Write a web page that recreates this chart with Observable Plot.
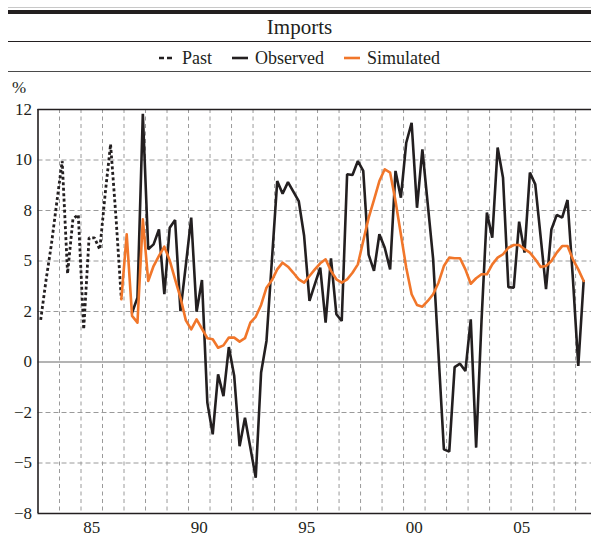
<!DOCTYPE html>
<html><head><meta charset="utf-8">
<script src="https://cdn.jsdelivr.net/npm/d3@7"></script>
<script src="https://cdn.jsdelivr.net/npm/@observablehq/plot@0.6"></script>
<style>
body{margin:0;background:#fff;font-family:"Liberation Serif","Times New Roman",serif;color:#231f20;}
#wrap{position:relative;width:591px;height:548px;overflow:hidden;}
.abs{position:absolute;}
#legend{display:flex;justify-content:center;align-items:center;font-size:18px;}
#legend .item{display:flex;align-items:center;margin:0 10px;}
#legend svg{margin-right:7px;}
</style></head><body>
<div id="wrap">
  <div class="abs" style="left:8px;right:0;top:7px;border-top:1px solid #c8c8c8"></div>
  <div class="abs" style="left:8px;right:0;top:9.5px;height:4.5px;background:#231f20"></div>
  <div class="abs" style="left:8px;right:0;top:14px;height:26px;line-height:26px;text-align:center;font-size:21px">Imports</div>
  <div class="abs" style="left:8px;right:0;top:41px;border-top:1.5px solid #231f20"></div>
  <div id="legend" class="abs" style="left:8px;right:0;top:45px;height:26px;"></div>
  <div class="abs" style="left:8px;right:0;top:71px;border-top:1.5px solid #4a4a4a"></div>
  <div class="abs" style="left:12px;top:78px;font-size:17px;line-height:20px">%</div>
  <div id="chart" class="abs" style="left:0;top:73px"></div>
</div>
<script>
// ---- data (quarterly, % change) ----
const pastStart = "1983Q1";
const pastValues = [2.0, 3.9, 5.6, 7.6, 9.55, 4.2, 6.8, 7.0, 1.55, 5.9, 5.9, 5.35, 8.0, 10.35, 6.9, 3.0];

const observedStart = "1987Q2";
const observedValues = [
  2.34, 3.06, 11.8,
  5.36, 5.59, 6.3, 3.22,
  6.38, 6.75, 2.42, 4.6,
  6.86, 2.39, 3.9, -1.93,
  -3.44, -0.59, -1.62, 0.71,
  -0.67, -4.0, -2.65, -4.07,
  -5.5, -0.5, 1.0, 4.8,
  8.6, 8.0, 8.55, 8.1,
  7.65, 6.0, 2.9, 3.7,
  4.48, 1.87, 4.93, 2.27,
  1.95, 8.92, 8.89, 9.55,
  9.08, 5.1, 4.33, 6.07,
  5.43, 4.4, 9.08, 7.81,
  10.42, 11.37, 7.33, 10.11,
  7.5, 4.9, 0.38, -4.15,
  -4.26, -0.24, -0.08, -0.43,
  2.03, -4.07, 1.95, 7.1,
  5.91, 10.19, 8.76, 3.56,
  3.53, 6.67, 5.2, 9.0,
  8.44, 5.95, 3.46, 6.3,
  6.99, 6.86, 7.7, 3.96,
  -0.19, 3.85
];

const simulatedStart = "1986Q4";
const simulatedValues = [
  2.98,
  6.07, 2.19, 1.87, 6.78,
  3.85, 4.56, 5.04, 5.48,
  4.83, 3.93, 3.06, 1.98,
  1.55, 2.03, 1.58, 1.13,
  1.08, 0.68, 0.79, 1.16,
  1.16, 0.97, 1.13, 1.87,
  2.15, 2.71, 3.53, 3.88,
  4.4, 4.72, 4.53, 4.24,
  3.93, 3.77, 4.09, 4.4,
  4.69, 4.88, 4.33, 3.93,
  3.77, 3.93, 4.24, 4.64,
  5.75, 6.85, 7.7, 8.6,
  9.16, 9.0, 7.65, 6.07,
  4.48, 3.22, 2.71, 2.63,
  2.9, 3.22, 3.77, 4.56,
  4.96, 4.93, 4.93, 4.4,
  3.72, 3.98, 4.17, 4.17,
  4.64, 4.96, 5.12, 5.43,
  5.56, 5.56, 5.36, 5.2,
  4.88, 4.52, 4.56, 4.8,
  5.2, 5.51, 5.51, 4.88,
  4.4, 3.85
];

const yTickValues = [-7.2, -4.8, -2.4, 0, 2.4, 4.8, 7.2, 9.6, 12];
const yTickLabels = ["−8", "−5", "−2", "0", "2", "5", "8", "10", "12"];
const xTickValues = [1985, 1990, 1995, 2000, 2005];
const xTickLabels = ["85", "90", "95", "00", "05"];
const gridYears = d3.range(1984, 2009);

const seriesNames = ["Past", "Observed", "Simulated"];
const seriesColors = ["#231f20", "#231f20", "#f1762a"];

// ---- build tables ----
function toRows(start, values, series) {
  const y0 = +start.slice(0, 4), q0 = +start.slice(5) - 1;
  return values.map((v, i) => ({t: y0 + (q0 + i) / 4 + 0.125, v, series}));
}
const past = toRows(pastStart, pastValues, "Past");
const observed = toRows(observedStart, observedValues, "Observed");
const simulated = toRows(simulatedStart, simulatedValues, "Simulated");

const yLab = new Map(yTickValues.map((d, i) => [d, yTickLabels[i]]));
const xLab = new Map(xTickValues.map((d, i) => [d + 0.5, xTickLabels[i]]));
const yMin = yTickValues[0], yMax = yTickValues[yTickValues.length - 1];

const chart = Plot.plot({
  width: 591,
  height: 475,
  marginTop: 36,
  marginBottom: 35,
  marginLeft: 37.5,
  marginRight: 0,
  style: {fontFamily: '"Liberation Serif","Times New Roman",serif', fontSize: "17px", color: "#231f20", background: "transparent"},
  x: {domain: [1983, 2008.74]},
  y: {domain: [yMin, yMax]},
  marks: [
    Plot.ruleX(gridYears, {stroke: "#9a9a9a", strokeDasharray: "4,3.5", strokeWidth: 1}),
    Plot.ruleY(yTickValues.filter(d => d !== 0 && d !== yMin && d !== yMax), {stroke: "#9a9a9a", strokeDasharray: "5,3", strokeWidth: 1}),
    Plot.ruleY([0], {stroke: "#9a9a9a", strokeWidth: 1.4}),
    Plot.line(past, {x: "t", y: "v", stroke: seriesColors[0], strokeWidth: 2.8, strokeDasharray: "3,2.5", strokeLinecap: "butt", strokeLinejoin: "miter"}),
    Plot.line(observed, {x: "t", y: "v", stroke: seriesColors[1], strokeWidth: 2.6, strokeLinejoin: "miter"}),
    Plot.line(simulated, {x: "t", y: "v", stroke: seriesColors[2], strokeWidth: 2.6}),
    Plot.ruleY([yMax], {stroke: "#231f20", strokeWidth: 1.5}),
    Plot.ruleY([yMin], {stroke: "#231f20", strokeWidth: 1.6}),
    Plot.ruleX([1983], {stroke: "#231f20", strokeWidth: 1.6}),
    Plot.axisY({ticks: yTickValues, tickFormat: d => yLab.get(d), tickSize: 0, tickPadding: 6, label: null, fontSize: 17}),
    Plot.axisX({ticks: [...xLab.keys()], tickFormat: d => xLab.get(d), tickSize: 0, tickPadding: 7, label: null, fontSize: 17})
  ]
});
document.getElementById("chart").appendChild(chart);

// ---- legend ----
const legend = document.getElementById("legend");
seriesNames.forEach((name, i) => {
  const item = document.createElement("div");
  item.className = "item";
  const dash = i === 0 ? 'stroke-dasharray="5,3"' : "";
  item.innerHTML = `<svg width="16" height="10"><line x1="0" y1="5" x2="16" y2="5" stroke="${seriesColors[i]}" stroke-width="2.6" ${dash}/></svg><span>${name}</span>`;
  legend.appendChild(item);
});
</script>
</body></html>
